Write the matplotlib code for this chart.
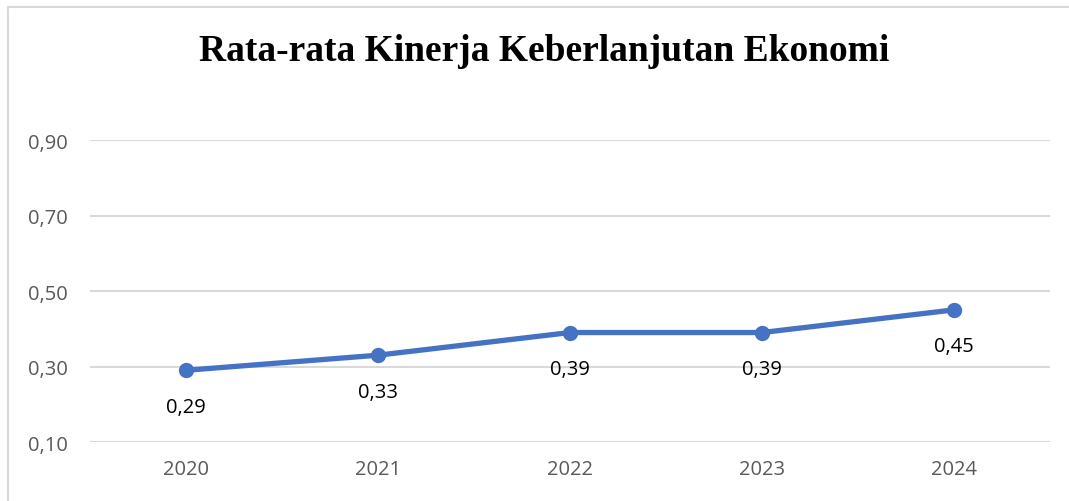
import matplotlib
matplotlib.use('Agg')
import matplotlib.pyplot as plt
from matplotlib.lines import Line2D

years = ['2020', '2021', '2022', '2023', '2024']
values = [0.29, 0.33, 0.39, 0.39, 0.45]
yticks = [0.10, 0.30, 0.50, 0.70, 0.90]

BLUE = '#4472C4'
GRID = '#D9D9D9'
TICK = '#595959'
SANS = ['Open Sans', 'DejaVu Sans']

fig = plt.figure(figsize=(10.69, 5.02), dpi=100)
ax = fig.add_axes([0.0842, 0.1175, 0.8980, 0.6016])

x = range(len(years))
ax.plot(x, values, color=BLUE, linewidth=3.8, marker='o', markersize=10,
        solid_capstyle='round', zorder=3)
for xi, v in zip(x, values):
    ax.annotate('{:.2f}'.format(v).replace('.', ','), (xi, v), xytext=(0, -19),
                textcoords='offset points', ha='center', va='top',
                fontsize=14.5, family=SANS, color='black')

ax.set_xlim(-0.5, len(years) - 0.5)
ax.set_ylim(0.10, 0.90)
ax.set_xticks(list(x))
ax.set_xticklabels(years)
ax.set_yticks(yticks)
ax.set_yticklabels(['{:.2f}'.format(t).replace('.', ',') for t in yticks])
ax.tick_params(length=0, labelsize=14.5, labelcolor=TICK)
ax.tick_params(axis='x', pad=12)
ax.tick_params(axis='y', pad=16)
for lab in ax.get_xticklabels() + ax.get_yticklabels():
    lab.set_family(SANS)
ax.grid(axis='y', color=GRID, linewidth=1.5)
ax.set_axisbelow(True)
for s in ax.spines.values():
    s.set_visible(False)

fig.text(0.509, 0.897, 'Rata-rata Kinerja Keberlanjutan Ekonomi', ha='center', va='center',
         fontsize=27, fontweight='bold', family='Liberation Serif')

# chart border (top and left edges visible)
fig.add_artist(Line2D([8 / 1069, 1], [1 - 8 / 502, 1 - 8 / 502], color=GRID, linewidth=1.5))
fig.add_artist(Line2D([8 / 1069, 8 / 1069], [0, 1 - 8 / 502], color=GRID, linewidth=1.5))

fig.savefig('out.png', dpi=100)
plt.close(fig)
